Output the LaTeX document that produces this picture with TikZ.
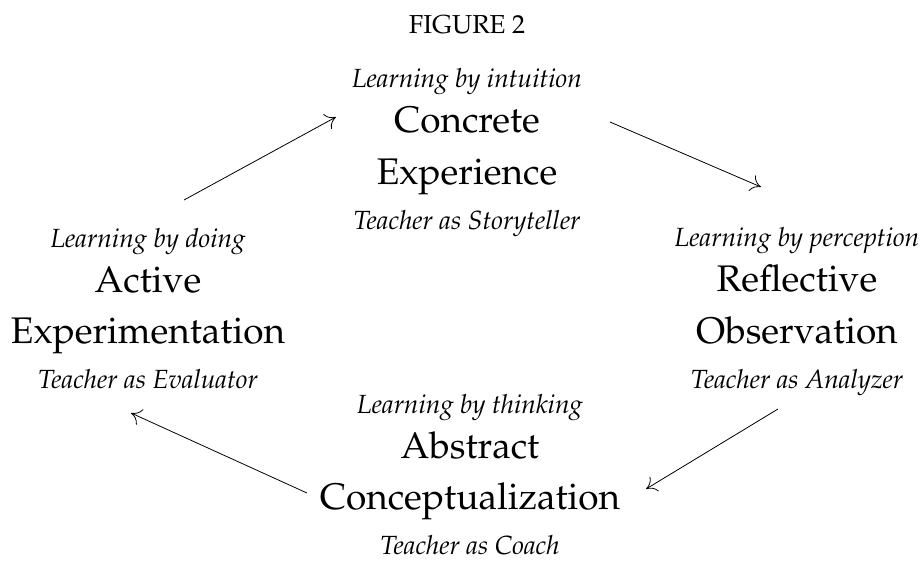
\documentclass[tikz,border=0pt]{standalone}
\IfFileExists{mathpazo.sty}{\usepackage[T1]{fontenc}\usepackage{mathpazo}}{%
  \IfFileExists{palatino.sty}{\usepackage[T1]{fontenc}\usepackage{palatino}}{%
    \usepackage{fontspec}\setmainfont{Liberation Serif}}}
\usetikzlibrary{arrows.meta}
\begin{document}
\begin{tikzpicture}[x=1pt,y=-1pt,
  big/.style={inner sep=0pt,anchor=base,font=\fontsize{37}{37}\selectfont},
  sub/.style={inner sep=0pt,anchor=base,font=\fontsize{26.3}{26.3}\selectfont\itshape},
  head/.style={inner sep=0pt,anchor=base,font=\fontsize{26}{26}\selectfont},
  flow/.style={-{To[length=10pt,width=17pt]},line width=0.8pt}]
\useasboundingbox (0,0) rectangle (923,579);

\node[head] (fig) at (467,33) {FIGURE 2};

% Concrete Experience
\node[sub] (ce1) at (467,87) {Learning by intuition};
\node[big] (ce2) at (467,132) {Concrete};
\node[big] (ce3) at (467,184) {Experience};
\node[sub] (ce4) at (467,229) {Teacher as Storyteller};

% Reflective Observation
\node[sub] (ro1) at (797,246) {Learning by perception};
\node[big] (ro2) at (797,291) {Reflective};
\node[big] (ro3) at (797,343) {Observation};
\node[sub] (ro4) at (797,388) {Teacher as Analyzer};

% Abstract Conceptualization
\node[sub] (ac1) at (470,413) {Learning by thinking};
\node[big] (ac2) at (470,458) {Abstract};
\node[big] (ac3) at (470,509) {Conceptualization};
\node[sub] (ac4) at (470,554) {Teacher as Coach};

% Active Experimentation
\node[sub] (ae1) at (148,247) {Learning by doing};
\node[big] (ae2) at (148,292) {Active};
\node[big] (ae3) at (148,343) {Experimentation};
\node[sub] (ae4) at (148,388) {Teacher as Evaluator};

% cycle arrows
\coordinate (a1s) at (184,200); \coordinate (a1e) at (336,117);
\coordinate (a2s) at (610,122); \coordinate (a2e) at (761,187);
\coordinate (a3s) at (778,409); \coordinate (a3e) at (646,489);
\coordinate (a4s) at (307,493); \coordinate (a4e) at (131,413);
\draw[flow] (a1s) -- (a1e);
\draw[flow] (a2s) -- (a2e);
\draw[flow] (a3s) -- (a3e);
\draw[flow] (a4s) -- (a4e);
\end{tikzpicture}
\end{document}
